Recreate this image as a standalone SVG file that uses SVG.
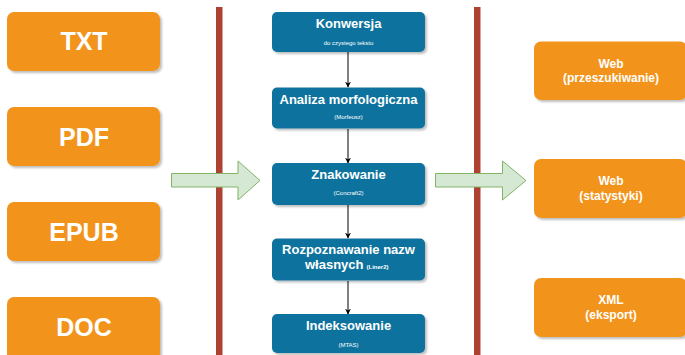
<svg xmlns="http://www.w3.org/2000/svg" width="685" height="355" viewBox="0 0 685 355">
<defs>
<filter id="sh" x="-10%" y="-10%" width="130%" height="130%">
<feDropShadow dx="2" dy="2" stdDeviation="0.8" flood-color="#000" flood-opacity="0.25"/>
</filter>
<marker id="ah" viewBox="0 0 10 10" refX="9" refY="5" markerWidth="6" markerHeight="6" orient="auto" markerUnits="userSpaceOnUse">
<path d="M0,0 L10,5 L0,10 L3,5 Z" fill="#000"/>
</marker>
</defs>
<style>
.or{fill:#F2941F;filter:url(#sh)}
.bl{fill:#10739E;filter:url(#sh)}
.big{font-family:"Liberation Sans",Arial,sans-serif;font-weight:bold;font-size:25px;fill:#fff;text-anchor:middle}
.mid{font-family:"Liberation Sans",Arial,sans-serif;font-weight:bold;font-size:12px;fill:#fff;text-anchor:middle}
.ttl{font-family:"Liberation Sans",Arial,sans-serif;font-weight:bold;font-size:13px;fill:#fff;text-anchor:middle}
.sub{font-family:"Liberation Sans",Arial,sans-serif;font-size:6px;fill:#fff;text-anchor:middle}
.sub2{font-family:"Liberation Sans",Arial,sans-serif;font-weight:bold;font-size:6px;fill:#fff}
.red{fill:#AE4132}
.grn{fill:#D5E8D4;stroke:#82B366;stroke-width:1}
.con{stroke:#000;stroke-width:1;fill:none;marker-end:url(#ah)}
</style>
<rect class="red" x="216" y="7" width="6.5" height="350"/>
<rect class="red" x="474" y="7" width="6.5" height="350"/>
<g id="txt"><rect class="or" x="7" y="12" width="153" height="59" rx="7"/><text class="big" x="84" y="50">TXT</text></g>
<g id="pdf"><rect class="or" x="7" y="107" width="153" height="59" rx="7"/><text class="big" x="84" y="146">PDF</text></g>
<g id="epub"><rect class="or" x="7" y="202" width="153" height="59" rx="7"/><text class="big" x="84" y="241">EPUB</text></g>
<g id="doc"><rect class="or" x="7" y="297" width="153" height="64" rx="7"/><text class="big" x="84" y="336">DOC</text></g>
<g id="arrowIn"><path class="grn" d="M171.5,173.5 H238 V161 L260,180.5 L238,200 V187 H171.5 Z"/></g>
<g id="arrowOut"><path class="grn" d="M435.5,173.5 H502.5 V161 L526,180.5 L502.5,200 V187 H435.5 Z"/></g>
<g id="connectors">
<line class="con" x1="348" y1="52" x2="348" y2="87"/>
<line class="con" x1="348" y1="129" x2="348" y2="163"/>
<line class="con" x1="348" y1="205" x2="348" y2="238"/>
<line class="con" x1="348" y1="281" x2="348" y2="314"/>
</g>
<g id="konwersja"><rect class="bl" x="272" y="12" width="153" height="40" rx="5"/><text class="ttl" x="348.5" y="28">Konwersja</text><text class="sub" x="348.5" y="44.5">do czystego tekstu</text></g>
<g id="analiza"><rect class="bl" x="272" y="87.5" width="153" height="41" rx="5"/><text class="ttl" x="348.5" y="103.5">Analiza morfologiczna</text><text class="sub" x="348.5" y="119">(Morfeusz)</text></g>
<g id="znakowanie"><rect class="bl" x="272" y="163" width="153" height="42" rx="5"/><text class="ttl" x="348.5" y="179">Znakowanie</text><text class="sub" x="348.5" y="194.5">(Concraft2)</text></g>
<g id="rozpoznawanie"><rect class="bl" x="272" y="238.5" width="153" height="42" rx="5"/><text class="ttl" x="348.5" y="254">Rozpoznawanie nazw</text><text class="ttl" x="363.5" y="268.5" style="text-anchor:end">własnych</text><text class="sub2" x="366.5" y="268.5">(Liner2)</text></g>
<g id="indeksowanie"><rect class="bl" x="272" y="314" width="153" height="39" rx="5"/><text class="ttl" x="348.5" y="330">Indeksowanie</text><text class="sub" x="348.5" y="346.5">(MTAS)</text></g>
<g id="webSearch"><rect class="or" x="534" y="41.5" width="153" height="58.5" rx="7"/><text class="mid" x="611" y="67.5">Web</text><text class="mid" x="611" y="82">(przeszukiwanie)</text></g>
<g id="webStats"><rect class="or" x="534" y="159" width="153" height="59" rx="7"/><text class="mid" x="611" y="185">Web</text><text class="mid" x="611" y="199.5">(statystyki)</text></g>
<g id="xml"><rect class="or" x="534" y="278" width="153" height="59" rx="7"/><text class="mid" x="611" y="304">XML</text><text class="mid" x="611" y="318.5">(eksport)</text></g>
</svg>
